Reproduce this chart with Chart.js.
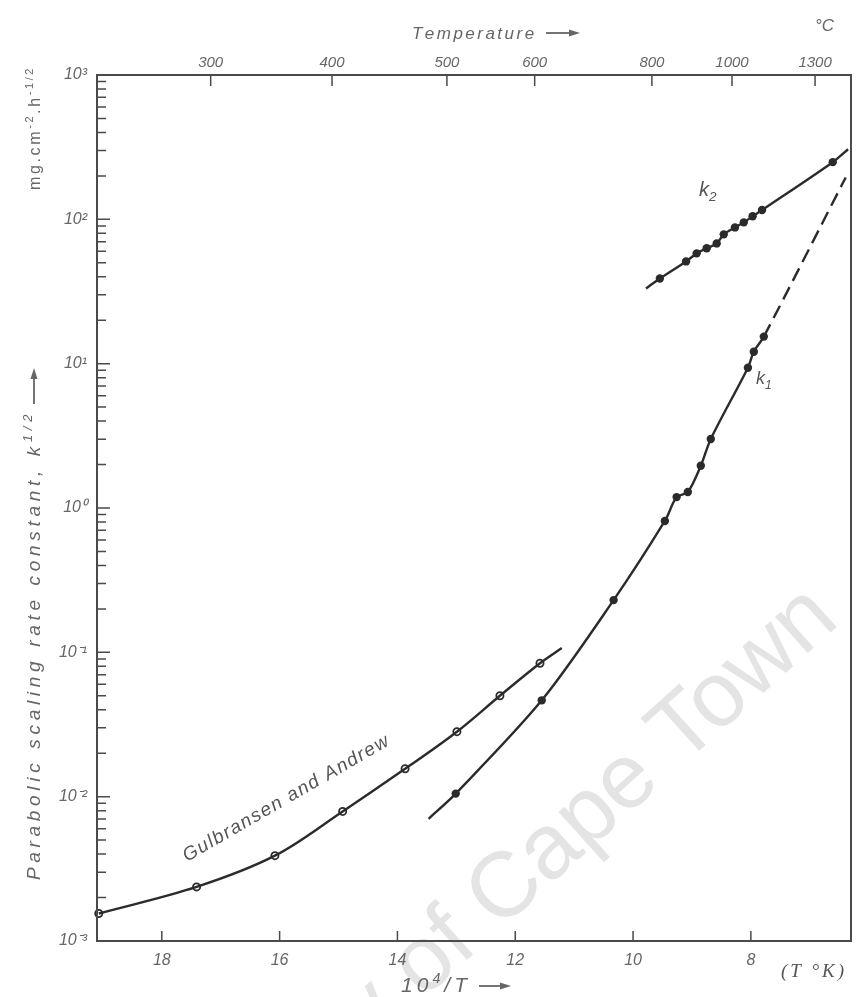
<!DOCTYPE html>
<html>
<head>
<meta charset="utf-8">
<title>Parabolic scaling rate constant</title>
<script src="https://cdn.jsdelivr.net/npm/chart.js@4.4.1/dist/chart.umd.min.js"></script>
<style>
  html, body { margin: 0; padding: 0; background: #fff; }
  #wrap { width: 862px; height: 997px; }
</style>
</head>
<body>
<div id="wrap"><canvas id="chart" width="862" height="997"></canvas></div>
<script>
// ---- axis ticks --------------------------------------------------------
const invTTicks = [18, 16, 14, 12, 10, 8];                    // 10^4/T
const tempTickPos = [17.17, 15.11, 13.16, 11.67, 9.68, 8.32, 6.91];
const tempTickLabels = ["300", "400", "500", "600", "800", "1000", "1300"];
const rateDecades = [1e-3, 1e-2, 1e-1, 1, 10, 100, 1000];

// ---- Gulbransen and Andrew (open circles) ------------------------------
const gaX = [19.07, 17.41, 16.08, 14.93, 13.87, 12.99, 12.26, 11.58];
const gaY = [0.00155, 0.00237, 0.0039, 0.0079, 0.0156, 0.0282, 0.050, 0.084];
const gaTailX = [11.21];
const gaTailY = [0.107];

// ---- k1 (solid dots) ---------------------------------------------------
const k1X = [13.01, 11.55, 10.33, 9.46, 9.26, 9.07, 8.85, 8.68, 8.05, 7.95, 7.78];
const k1Y = [0.0105, 0.0465, 0.230, 0.813, 1.19, 1.29, 1.96, 3.01, 9.38, 12.1, 15.4];
const k1HeadX = [13.47];
const k1HeadY = [0.00703];
const k1TailX = [6.39];
const k1TailY = [195];

// ---- k2 (solid dots) ---------------------------------------------------
const k2X = [9.545, 9.10, 8.92, 8.75, 8.58, 8.46, 8.27, 8.12, 7.97, 7.81, 6.61];
const k2Y = [38.9, 51.1, 58.1, 63.0, 68.1, 78.7, 87.9, 95.3, 105, 116, 249];
const k2HeadX = [9.78];
const k2HeadY = [33.2];
const k2TailX = [6.35];
const k2TailY = [306];

const ink = "#2b2b2b";
const axisInk = "#4a4a4a";
const labelInk = "#666";
const fam = "'Liberation Sans', Arial, sans-serif";

function pts(xs, ys) { return xs.map((x, i) => ({ x, y: ys[i] })); }

const SUP = { "0": "⁰", "1": "¹", "2": "²", "3": "³", "-": "⁻" };
function decadeLabel(v) {
  const e = String(Math.round(Math.log10(v)));
  return "10" + e.split("").map((c) => SUP[c]).join("");
}

// a run of [text, mode] parts; mode 1 = superscript, -1 = subscript
function partFont(mode, size, style, family) {
  const s = mode ? size * 0.68 : size;
  return `${style || "italic"} ${s}px ${family || fam}`;
}

function partsWidth(ctx, parts, size, style, family) {
  let w = 0;
  parts.forEach(([t, mode]) => {
    ctx.font = partFont(mode, size, style, family);
    w += ctx.measureText(t).width;
  });
  return w;
}

// draws the parts; fitTo spreads the letters out to reach a given length
function drawParts(ctx, x, y, parts, size, opts = {}) {
  const { style, family, fitTo } = opts;
  const w = partsWidth(ctx, parts, size, style, family);
  const n = parts.reduce((acc, [t]) => acc + t.length, 0);
  const ls = fitTo ? (fitTo - w) / n : 0;
  ctx.save();
  ctx.translate(x, y);
  let cx = 0;
  parts.forEach(([t, mode]) => {
    ctx.font = partFont(mode, size, style, family);
    const dy = mode === 1 ? -size * 0.42 : mode === -1 ? size * 0.25 : 0;
    for (const ch of t) {
      ctx.fillText(ch, cx, dy);
      cx += ctx.measureText(ch).width + ls;
    }
  });
  ctx.restore();
  return cx;
}

function arrow(ctx, x, y, len) {
  ctx.beginPath();
  ctx.moveTo(x, y);
  ctx.lineTo(x + len - 8, y);
  ctx.lineWidth = 1.8;
  ctx.stroke();
  ctx.beginPath();
  ctx.moveTo(x + len, y);
  ctx.lineTo(x + len - 11, y - 3.5);
  ctx.lineTo(x + len - 11, y + 3.5);
  ctx.closePath();
  ctx.fill();
}

// faint watermark under everything else
const watermark = {
  id: "watermark",
  beforeDraw(chart) {
    const { ctx } = chart;
    ctx.save();
    ctx.font = `92px ${fam}`;
    ctx.fillStyle = "#e4e4e4";
    ctx.translate(499, 931);
    ctx.rotate(-42 * Math.PI / 180);
    ctx.textAlign = "left";
    ctx.fillText("Cape Town", 0, 0);
    ctx.textAlign = "right";
    ctx.fillText("University of ", 0, 0);
    ctx.restore();
  }
};

// frame, inward tick marks and free text
const decorations = {
  id: "decorations",
  afterDraw(chart) {
    const { ctx, chartArea: a, scales } = chart;
    ctx.save();
    ctx.strokeStyle = axisInk;
    ctx.lineWidth = 2;
    ctx.strokeRect(a.left, a.top, a.right - a.left, a.bottom - a.top);

    ctx.lineWidth = 1.5;
    ctx.beginPath();
    invTTicks.forEach((v) => {
      const x = scales.x.getPixelForValue(v);
      ctx.moveTo(x, a.bottom); ctx.lineTo(x, a.bottom - 10);
    });
    tempTickPos.forEach((v) => {
      const x = scales.xTop.getPixelForValue(v);
      ctx.moveTo(x, a.top); ctx.lineTo(x, a.top + 11);
    });
    for (let d = -3; d < 3; d++) {
      for (let m = 1; m < 10; m++) {
        const y = scales.y.getPixelForValue(m * Math.pow(10, d));
        ctx.moveTo(a.left, y); ctx.lineTo(a.left + (m === 1 ? 13 : 9), y);
      }
    }
    ctx.stroke();

    ctx.fillStyle = labelInk;
    ctx.strokeStyle = labelInk;
    ctx.textBaseline = "alphabetic";
    ctx.textAlign = "left";

    // top: temperature
    drawParts(ctx, 412, 39, [["Temperature", 0]], 17, { fitTo: 123 });
    arrow(ctx, 546, 33, 34);
    drawParts(ctx, 815, 31, [["°C", 0]], 17);

    // bottom: 10^4/T
    drawParts(ctx, 401, 992, [["10", 0], ["4", 1], ["/T", 0]], 21, { fitTo: 70 });
    arrow(ctx, 479, 986, 32);
    ctx.fillStyle = "#555";
    drawParts(ctx, 781, 977, [["(T °K)", 0]], 19, { family: "'Liberation Serif', serif", fitTo: 66 });
    ctx.fillStyle = labelInk;

    // y title, written upwards
    ctx.save();
    ctx.translate(40, 880);
    ctx.rotate(-Math.PI / 2);
    drawParts(ctx, 0, 0, [["Parabolic scaling rate constant, k", 0], ["1/2", 1]], 19, { fitTo: 470 });
    arrow(ctx, 476, -6, 36);
    ctx.restore();
    ctx.save();
    ctx.translate(40, 190);
    ctx.rotate(-Math.PI / 2);
    drawParts(ctx, 0, 0, [["mg.cm", 0], ["-2", 1], [".h", 0], ["-1/2", 1]], 16,
      { style: "normal", fitTo: 124 });
    ctx.restore();

    // curve labels
    ctx.fillStyle = "#555";
    drawParts(ctx, 699, 196, [["k", 0], ["2", -1]], 20);
    drawParts(ctx, 756, 384, [["k", 0], ["1", -1]], 18);
    ctx.save();
    ctx.translate(187, 862);
    ctx.rotate(-30 * Math.PI / 180);
    drawParts(ctx, 0, 0, [["Gulbransen and Andrew", 0]], 19, { fitTo: 236 });
    ctx.restore();

    ctx.restore();
  }
};

const tickFont = { family: fam, size: 16, style: "italic" };
const xRange = { min: 6.30, max: 19.10 };
const hiddenGrid = { display: false, drawTicks: false, tickLength: 0 };

new Chart(document.getElementById("chart"), {
  type: "scatter",
  data: {
    datasets: [
      {
        label: "Gulbransen and Andrew",
        data: pts(gaX.concat(gaTailX), gaY.concat(gaTailY)),
        showLine: true, pointRadius: 0, borderColor: ink, borderWidth: 2.4,
        tension: 0.35, clip: false
      },
      {
        data: pts(gaX, gaY),
        showLine: false, pointRadius: 3.6, pointBackgroundColor: "#fff",
        pointBorderColor: ink, pointBorderWidth: 1.8, clip: false
      },
      {
        label: "k1",
        data: pts(k1HeadX.concat(k1X, k1TailX), k1HeadY.concat(k1Y, k1TailY)),
        showLine: true, pointRadius: 0, borderColor: ink, borderWidth: 2.4,
        tension: 0.3, clip: false,
        segment: { borderDash: (c) => (c.p0.parsed.x < 7.8 ? [14, 7] : undefined) }
      },
      {
        data: pts(k1X, k1Y),
        showLine: false, pointRadius: 4.2, pointBackgroundColor: ink,
        pointBorderColor: ink, pointBorderWidth: 0, clip: false
      },
      {
        label: "k2",
        data: pts(k2HeadX.concat(k2X, k2TailX), k2HeadY.concat(k2Y, k2TailY)),
        showLine: true, pointRadius: 0, borderColor: ink, borderWidth: 2.4,
        tension: 0.3, clip: false
      },
      {
        data: pts(k2X, k2Y),
        showLine: false, pointRadius: 4.2, pointBackgroundColor: ink,
        pointBorderColor: ink, pointBorderWidth: 0, clip: false
      }
    ]
  },
  options: {
    responsive: false,
    animation: false,
    devicePixelRatio: 1,
    layout: { padding: { left: 0, right: 11, top: 0, bottom: 0 } },
    plugins: { legend: { display: false }, tooltip: { enabled: false } },
    scales: {
      x: {
        type: "linear", position: "bottom", reverse: true, ...xRange,
        afterBuildTicks: (s) => { s.ticks = invTTicks.map((v) => ({ value: v })); },
        afterFit: (s) => { s.height = 56; },
        grid: hiddenGrid, border: { display: false },
        ticks: { color: labelInk, font: tickFont, padding: 10, autoSkip: false, maxRotation: 0,
                 callback: (v) => String(v) }
      },
      xTop: {
        type: "linear", position: "top", reverse: true, ...xRange,
        afterBuildTicks: (s) => { s.ticks = tempTickPos.map((v) => ({ value: v })); },
        afterFit: (s) => { s.height = 75; },
        grid: hiddenGrid, border: { display: false },
        ticks: { color: labelInk, font: { ...tickFont, size: 15 }, padding: 3, autoSkip: false,
                 maxRotation: 0, callback: (v, i) => tempTickLabels[i] }
      },
      y: {
        type: "logarithmic", position: "left", min: 1e-3, max: 1e3,
        afterBuildTicks: (s) => { s.ticks = rateDecades.map((v) => ({ value: v })); },
        afterFit: (s) => { s.width = 97; },
        grid: hiddenGrid, border: { display: false },
        ticks: { color: labelInk, font: tickFont, padding: 10, autoSkip: false,
                 callback: (v) => decadeLabel(v) }
      }
    }
  },
  plugins: [watermark, decorations]
});
</script>
</body>
</html>
